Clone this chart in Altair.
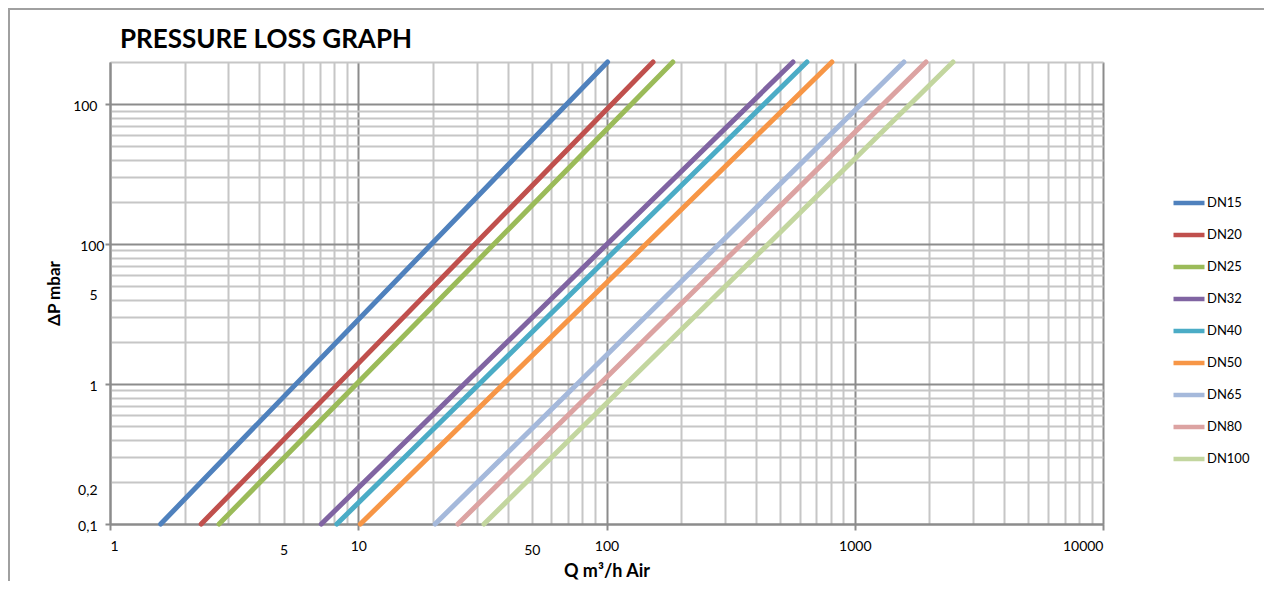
import altair as alt
import pandas as pd

# ---- data ----
names = ["DN15", "DN20", "DN25", "DN32", "DN40", "DN50", "DN65", "DN80", "DN100"]
colors = ["#4F81BD", "#C0504D", "#9BBB59", "#8064A2", "#4BACC6", "#F79646",
          "#A5B9DB", "#DCA3A2", "#C3D69F"]
dp_low = 0.1     # mbar, bottom of chart
dp_high = 200    # mbar, top of chart
q_at_low = [1.6, 2.33, 2.75, 7.1, 8.2, 10.2, 20.4, 25.2, 32.1]       # m3/h at dp_low
q_at_high = [101, 154, 185, 564, 642, 809, 1578, 1937, 2488]          # m3/h at dp_high

x_grid = [round(k * 10 ** e, 6) for e in range(0, 4) for k in range(1, 10)] + [10000]
y_grid = [round(k * 10 ** e, 6) for e in range(-1, 2) for k in range(1, 10)] + [100, 200]
x_major = [1, 10, 100, 1000, 10000]
y_major = [0.1, 1, 10, 100]
x_label_values = [1, 5, 10, 50, 100, 1000, 10000]
x_label_texts = ["1", "5", "10", "50", "100", "1000", "10000"]
y_label_values = [0.1, 0.2, 1, 5, 10, 100]
y_label_texts = ["0,1", "0,2", "1", "5", "100", "100"]

rows = []
for n, a, b in zip(names, q_at_low, q_at_high):
    rows.append({"series": n, "q": a, "dp": dp_low})
    rows.append({"series": n, "q": b, "dp": dp_high})
df = pd.DataFrame(rows)


def label_expr(vals, texts):
    s = "''"
    for v, t in reversed(list(zip(vals, texts))):
        s = f"datum.value == {v} ? '{t}' : ({s})"
    return s


def major_test(vals):
    return "indexof([" + ",".join(str(v) for v in vals) + "], datum.value) >= 0"


FONT = "Lato"
MAJOR = "#8c8c8c"
MINOR = "#c6c6c6"

x_axis = alt.Axis(
    values=x_grid,
    labelExpr=label_expr(x_label_values, x_label_texts),
    grid=True,
    gridColor={"condition": {"test": major_test(x_major), "value": MAJOR}, "value": MINOR},
    gridWidth=2,
    tickColor=MAJOR,
    tickWidth=2,
    tickSize=6,
    tickOpacity={"condition": {"test": major_test(x_major), "value": 1}, "value": 0},
    domainColor=MAJOR,
    domainWidth=2,
    labelFlush=True,
    labelOverlap=False,
    labelPadding={"condition": {"test": "datum.value == 5 || datum.value == 50", "value": 13}, "value": 9},
    labelFont=FONT,
    labelFontSize=14,
    labelColor="#000000",
    title="Q m³/h Air",
    titleFont=FONT,
    titleFontSize=18,
    titleFontWeight="bold",
    titleColor="#000000",
    titleBaseline="alphabetic",
    titleY=52,
)

y_axis = alt.Axis(
    values=y_grid,
    labelExpr=label_expr(y_label_values, y_label_texts),
    grid=True,
    gridColor={"condition": {"test": major_test(y_major), "value": MAJOR}, "value": MINOR},
    gridWidth=2,
    tickColor=MAJOR,
    tickWidth=2,
    tickSize=5,
    tickOpacity={"condition": {"test": major_test(y_major), "value": 1}, "value": 0},
    domainColor=MAJOR,
    domainWidth=2,
    labelOverlap=False,
    labelOffset={"condition": {"test": "datum.value == 5 || datum.value == 0.2", "value": 9}, "value": 2},
    labelPadding={"condition": {"test": "datum.value == 10", "value": 1}, "value": 8},
    labelFont=FONT,
    labelFontSize=14,
    labelColor="#000000",
    title="ΔP mbar",
    titleFont=FONT,
    titleFontSize=17,
    titleFontWeight="bold",
    titleColor="#000000",
    titleX=-56,
    titleY=231,
    titleAlign="center",
    titleBaseline="middle",
)

lines = alt.Chart(df).mark_line(strokeWidth=5, strokeCap="round").encode(
    x=alt.X("q:Q", scale=alt.Scale(type="log", domain=[1, 10000], nice=False), axis=x_axis),
    y=alt.Y("dp:Q", scale=alt.Scale(type="log", domain=[0.1, 200], nice=False), axis=y_axis),
    color=alt.Color(
        "series:N",
        scale=alt.Scale(domain=names, range=colors),
        sort=names,
        legend=alt.Legend(
            title=None,
            orient="none",
            legendX=1061,
            legendY=123,
            symbolType="stroke",
            symbolSize=961,
            symbolStrokeWidth=4.5,
            labelFont=FONT,
            labelFontSize=13,
            labelColor="#000000",
            labelOffset=0,
            rowPadding=5,
            padding=0,
        ),
    ),
    detail="series:N",
)

frame = alt.Chart(alt.Data(values=[{}])).mark_rect(
    fill="transparent", stroke="#a0a0a0", strokeWidth=2
).encode(
    x=alt.value(-101), x2=alt.value(1400), y=alt.value(-53), y2=alt.value(700)
)

chart = alt.layer(frame, lines).properties(
    width=993,
    height=462,
    padding={"left": 102, "top": 54, "right": 161, "bottom": 57},
    autosize=alt.AutoSizeParams(type="none"),
    title=alt.TitleParams(
        "PRESSURE LOSS GRAPH",
        anchor="start",
        frame="group",
        font=FONT,
        fontSize=26,
        fontWeight="bold",
        color="#000000",
        baseline="alphabetic",
        offset=13,
        dx=10,
        dy=79,
    ),
).configure_view(strokeWidth=0).configure(background="white")

chart.save("out.html", embed_options={"renderer": "svg", "actions": False})
